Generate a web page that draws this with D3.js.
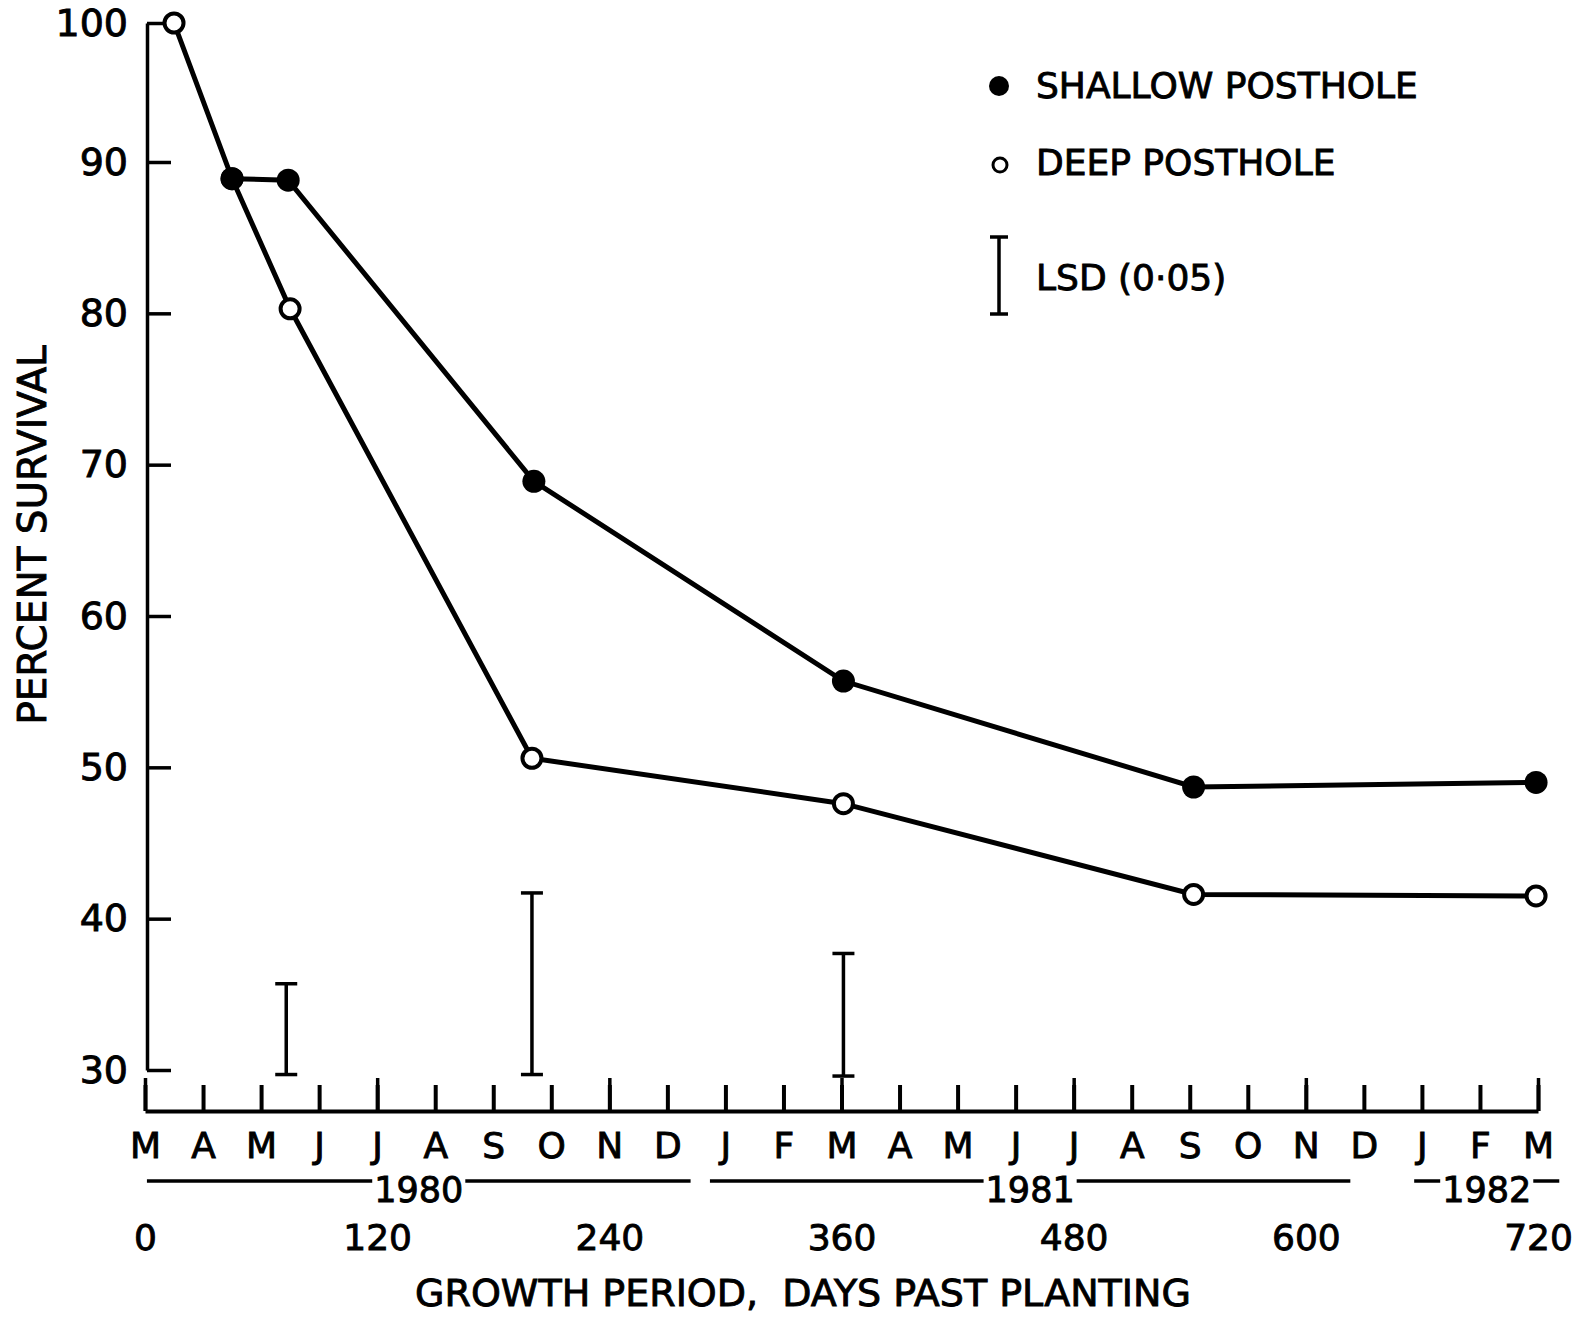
<!DOCTYPE html>
<html>
<head>
<meta charset="utf-8">
<script src="https://cdn.jsdelivr.net/npm/d3@7"></script>
<style>
  body { margin: 0; background: #fff; }
  text { font-family: "DejaVu Sans", sans-serif; fill: #000; stroke: #000; stroke-width: 0.9px; }
</style>
</head>
<body>
<div id="chart"></div>
<script>
// survival data (days past planting, percent)
const shallowDays = [45, 74, 201, 361, 542, 719]
const shallowValues = [88.9, 88.8, 68.9, 55.7, 48.7, 49.0]
const deepDays = [15, 45, 75, 200, 361, 542, 719]
const deepValues = [100, 88.9, 80.3, 50.6, 47.6, 41.6, 41.5]

// LSD (0.05) bars
const lsdDays = [73, 200, 361]
const lsdLow = [29.7, 29.7, 29.6]
const lsdHigh = [35.7, 41.7, 37.7]

const months = ['M', 'A', 'M', 'J', 'J', 'A', 'S', 'O', 'N', 'D', 'J', 'F',
                'M', 'A', 'M', 'J', 'J', 'A', 'S', 'O', 'N', 'D', 'J', 'F', 'M']
const monthDays = months.map((m, i) => i * 30)
const dayTicks = [0, 120, 240, 360, 480, 600, 720]
const yTicks = [30, 40, 50, 60, 70, 80, 90, 100]

const years = ['1980', '1981', '1982']
const yearStart = [1, 292, 656]
const yearEnd = [282, 623, 731]

const width = 1581, height = 1318

const svg = d3.select('#chart')
    .append('svg')
    .attr('width', width)
    .attr('height', height)

// the hand drawn axis is a bit stretched between 90 and 100
const x = d3.scaleLinear().domain([0, 720]).range([145, 1538])
const y = d3.scaleLinear().domain([30, 90, 100]).range([1070, 162, 23])

// y axis, ticks pointing into the plot
const yAxis = svg.append('g')
    .attr('transform', 'translate(147,0)')
    .call(d3.axisLeft(y).tickValues(yTicks).tickSizeInner(-24).tickSizeOuter(0).tickPadding(19))
yAxis.selectAll('path, line').attr('stroke', '#000').attr('stroke-width', 3.5)
yAxis.selectAll('text').attr('font-size', 38).attr('fill', '#000')
yAxis.attr('font-family', null)

// month axis
const mAxis = svg.append('g')
    .attr('transform', 'translate(0,1111)')
    .call(d3.axisBottom(x).tickValues(monthDays).tickSizeInner(-26).tickSizeOuter(0)
        .tickPadding(21).tickFormat((d, i) => months[i]))
mAxis.selectAll('path, line').attr('stroke', '#000').attr('stroke-width', 4)
mAxis.selectAll('text').attr('font-size', 36).attr('fill', '#000')
mAxis.attr('font-family', null)

// day labels and the taller ticks every 120 days
const dAxis = svg.append('g')
    .attr('transform', 'translate(0,1111)')
    .call(d3.axisBottom(x).tickValues(dayTicks).tickSizeInner(-33).tickSizeOuter(0)
        .tickPadding(113))
dAxis.select('.domain').remove()
dAxis.selectAll('line').attr('stroke', '#000').attr('stroke-width', 3.5)
dAxis.selectAll('text').attr('font-size', 36).attr('fill', '#000')
dAxis.attr('font-family', null)

// year bands
const yearG = svg.append('g')
years.forEach((yr, i) => {
    const mid = (x(yearStart[i]) + x(yearEnd[i])) / 2
    const t = yearG.append('text')
        .attr('x', mid)
        .attr('y', 1202)
        .attr('text-anchor', 'middle')
        .attr('font-size', 35)
        .text(yr)
    const half = t.node().getComputedTextLength() / 2 + 2
    yearG.append('line')
        .attr('x1', x(yearStart[i])).attr('x2', mid - half)
        .attr('y1', 1181).attr('y2', 1181)
        .attr('stroke', '#000').attr('stroke-width', 3.5)
    yearG.append('line')
        .attr('x1', mid + half).attr('x2', x(yearEnd[i]))
        .attr('y1', 1181).attr('y2', 1181)
        .attr('stroke', '#000').attr('stroke-width', 3.5)
})

// axis titles
svg.append('text')
    .attr('x', 803)
    .attr('y', 1306)
    .attr('text-anchor', 'middle')
    .attr('font-size', 38)
    .attr('xml:space', 'preserve')
    .text('GROWTH PERIOD,  DAYS PAST PLANTING')

svg.append('text')
    .attr('transform', 'translate(46,535) rotate(-90)')
    .attr('text-anchor', 'middle')
    .attr('font-size', 39)
    .text('PERCENT SURVIVAL')

// LSD bars
const lsd = svg.append('g').attr('stroke', '#000').attr('stroke-width', 3.5)
lsdDays.forEach((d, i) => {
    lsd.append('line')
        .attr('x1', x(d)).attr('x2', x(d))
        .attr('y1', y(lsdLow[i])).attr('y2', y(lsdHigh[i]))
    ;[lsdLow[i], lsdHigh[i]].forEach(v => {
        lsd.append('line')
            .attr('x1', x(d) - 11).attr('x2', x(d) + 11)
            .attr('y1', y(v)).attr('y2', y(v))
    })
})

// series lines
const line = d3.line().x(d => x(d[0])).y(d => y(d[1]))
const deep = deepDays.map((d, i) => [d, deepValues[i]])
const shallow = shallowDays.map((d, i) => [d, shallowValues[i]])

svg.append('path')
    .datum(deep)
    .attr('d', line)
    .attr('fill', 'none')
    .attr('stroke', '#000')
    .attr('stroke-width', 5)

svg.append('path')
    .datum(shallow)
    .attr('d', line)
    .attr('fill', 'none')
    .attr('stroke', '#000')
    .attr('stroke-width', 5)

svg.append('g')
    .selectAll('circle')
    .data(deep)
    .join('circle')
    .attr('cx', d => x(d[0]))
    .attr('cy', d => y(d[1]))
    .attr('r', 9.5)
    .attr('fill', '#fff')
    .attr('stroke', '#000')
    .attr('stroke-width', 4)

svg.append('g')
    .selectAll('circle')
    .data(shallow)
    .join('circle')
    .attr('cx', d => x(d[0]))
    .attr('cy', d => y(d[1]))
    .attr('r', 11.5)
    .attr('fill', '#000')

// legend
const leg = svg.append('g')
leg.append('circle').attr('cx', 999).attr('cy', 86).attr('r', 10).attr('fill', '#000')
leg.append('circle').attr('cx', 1000).attr('cy', 165).attr('r', 7)
    .attr('fill', '#fff').attr('stroke', '#000').attr('stroke-width', 3)
leg.append('text').attr('x', 1036).attr('y', 98).attr('font-size', 36).text('SHALLOW POSTHOLE')
leg.append('text').attr('x', 1036).attr('y', 175).attr('font-size', 36).text('DEEP POSTHOLE')
leg.append('line').attr('x1', 999).attr('x2', 999).attr('y1', 237).attr('y2', 314)
    .attr('stroke', '#000').attr('stroke-width', 3.5)
leg.append('line').attr('x1', 990).attr('x2', 1008).attr('y1', 237).attr('y2', 237)
    .attr('stroke', '#000').attr('stroke-width', 3.5)
leg.append('line').attr('x1', 990).attr('x2', 1008).attr('y1', 314).attr('y2', 314)
    .attr('stroke', '#000').attr('stroke-width', 3.5)
leg.append('text').attr('x', 1036).attr('y', 290).attr('font-size', 36).text('LSD (0·05)')
</script>
</body>
</html>
